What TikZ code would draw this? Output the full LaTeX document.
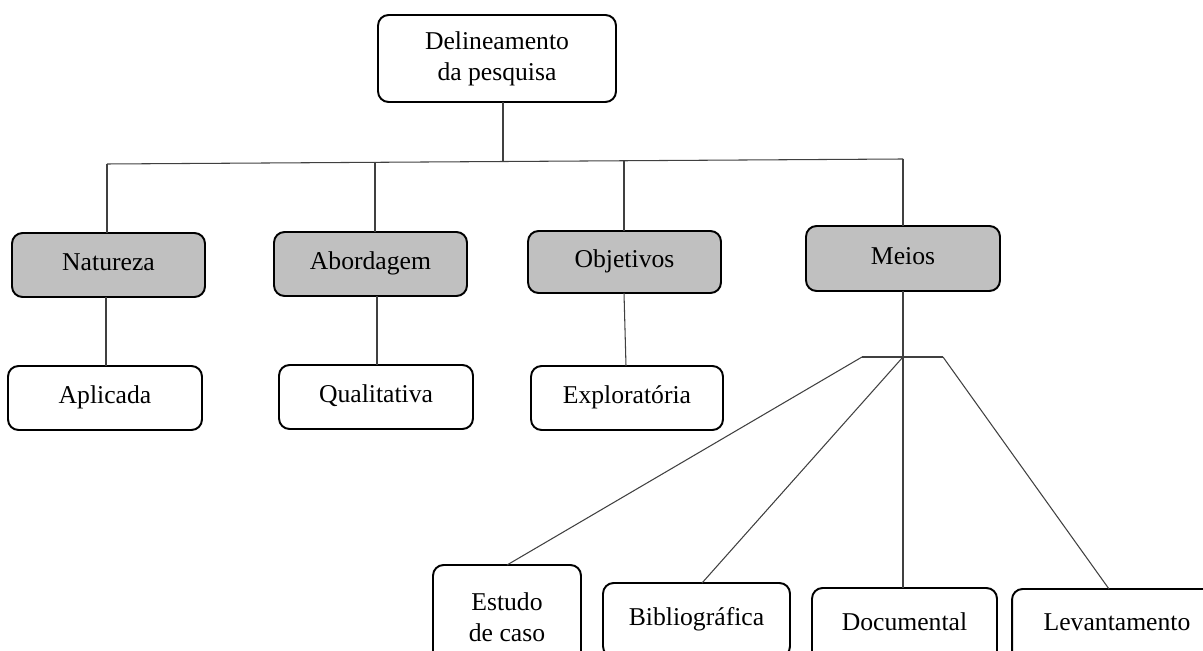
\documentclass[tikz,border=0pt]{standalone}
\usepackage{fontspec}
\setmainfont{Liberation Serif}
\usepackage{tikz}
\usetikzlibrary{positioning}
\definecolor{boxgray}{HTML}{C0C0C0}
\newcommand{\boxfont}{\fontsize{14.6}{17.5}\selectfont}

\begin{document}
\begin{tikzpicture}[x=0.02cm,y=-0.02cm,
  box/.style={draw, rounded corners=6pt, line width=1.1pt, align=center,
    inner sep=0pt, outer sep=0pt, font=\boxfont},
  oneline/.style={box, text height=0.66em, text depth=0pt},
  greybox/.style={oneline, fill=boxgray, minimum width=3.86cm, minimum height=1.28cm},
  leafbox/.style={oneline, fill=white, minimum width=3.88cm, minimum height=1.28cm},
  link/.style={draw=black!75, line width=0.6pt}]
%frame
\useasboundingbox (0,0) rectangle (1203,651);
\clip (0,0) rectangle (1203,651);
%root
\node[box, minimum width=4.76cm, minimum height=1.74cm] (delineamento) at (497,58.5) {Delineamento\\da pesquisa};
%bar under the root
\coordinate (tronco) at (503,162);
\coordinate (c1) at (107,164); \coordinate (c2) at (375,162);
\coordinate (c3) at (624,161); \coordinate (c4) at (903,159);
\draw[link] (tronco |- delineamento.south) -- (tronco);
\draw[link] (c1) -- (c4);
%level 1
\node[greybox] (natureza) at (108.5,265) {Natureza};
\node[greybox] (abordagem) at (370.5,264) {Abordagem};
\node[greybox, minimum height=1.24cm] (objetivos) at (624.5,262) {Objetivos};
\node[greybox, minimum width=3.88cm, minimum height=1.3cm] (meios) at (903,258.5) {Meios};
\draw[link] (c1) -- (c1 |- natureza.north);
\draw[link] (c2) -- (c2 |- abordagem.north);
\draw[link] (c3) -- (c3 |- objetivos.north);
\draw[link] (c4) -- (c4 |- meios.north);
%level 2
\node[leafbox] (aplicada) at (105,398) {Aplicada};
\node[leafbox] (qualitativa) at (376,397) {Qualitativa};
\node[leafbox, minimum width=3.84cm] (exploratoria) at (627,398) {Exploratória};
\draw[link] (natureza.south -| 106,0) -- (aplicada.north -| 106,0);
\draw[link] (abordagem.south -| 377,0) -- (qualitativa.north -| 377,0);
\draw[link] (objetivos.south -| 624,0) -- (exploratoria.north -| 626,0);
%meios branches
\coordinate (juncao) at (903,357);
\coordinate (juncaoE) at (862,357); \coordinate (juncaoD) at (943,357);
\draw[link] (meios.south) -- (juncao);
\draw[link] (juncaoE) -- (juncaoD);
\node[box, minimum width=2.96cm, minimum height=2.08cm] (estudo) at (507,617) {Estudo\\de caso};
\node[oneline, minimum width=3.74cm, minimum height=1.48cm] (bibliografica) at (696.5,620) {Bibliográfica};
\node[oneline, minimum width=3.70cm, minimum height=1.48cm] (documental) at (904.5,625) {Documental};
\node[oneline, minimum width=4.2cm, minimum height=1.44cm] (levantamento) at (1117,625) {Levantamento};
\draw[link] (juncaoE) -- (estudo.north);
\draw[link] (juncao) -- (bibliografica.north -| 702,0);
\draw[link] (juncao) -- (documental.north -| 903,0);
\draw[link] (juncaoD) -- (levantamento.north -| 1109,0);
\end{tikzpicture}
\end{document}
